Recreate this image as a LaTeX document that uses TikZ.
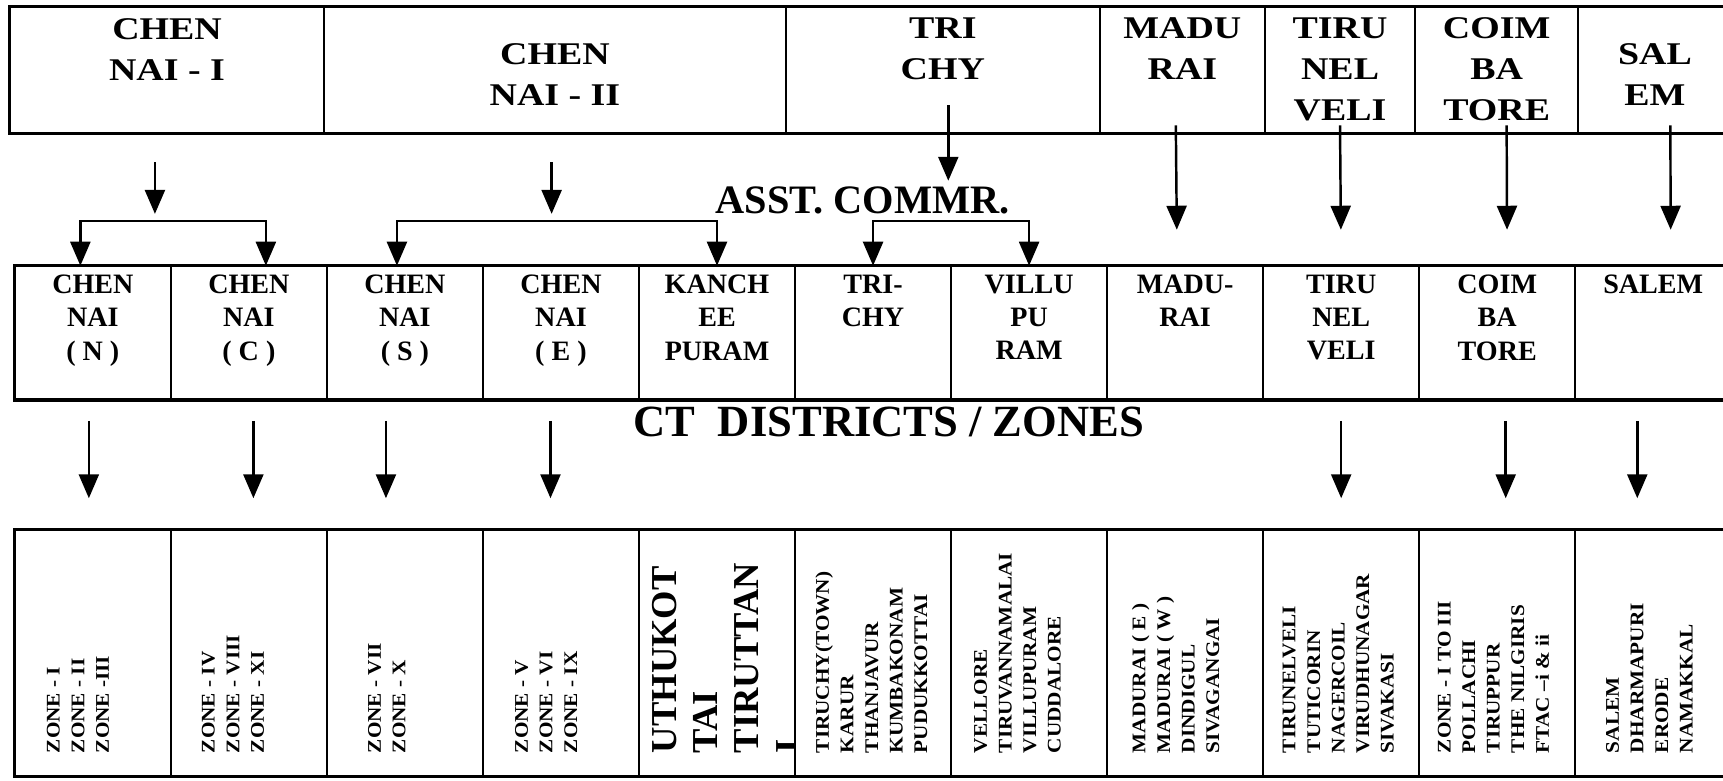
\documentclass[tikz,border=0pt]{standalone}
\usepackage{fontspec}
\setmainfont{Liberation Serif}
\newfontfamily\widefont[FakeStretch=1.2]{Liberation Serif}
\newfontfamily\zonefont[FakeStretch=1.1]{Liberation Serif}
\usetikzlibrary{arrows.meta,positioning}

\begin{document}
\begin{tikzpicture}[x=0.11mm, y=-0.11mm,
    top_cell/.style ={rectangle, draw=black, line width=0.5pt,
      inner sep=0pt, outer sep=0pt, minimum height=12.67mm},
    mid_cell/.style ={rectangle, draw=black, line width=0.5pt,
      inner sep=0pt, outer sep=0pt, minimum width=15.62mm, minimum height=13.44mm},
    zone_cell/.style ={rectangle, draw=black, line width=0.5pt,
      inner sep=0pt, outer sep=0pt, minimum width=15.62mm, minimum height=24.77mm},
    frame/.style ={draw=black, line width=0.9pt},
    top_text/.style ={align=center, inner sep=0pt,
      font=\widefont\bfseries\fontsize{9}{11.7}\selectfont},
    mid_text/.style ={align=center, inner sep=0pt,
      font=\bfseries\fontsize{8}{9.4}\selectfont},
    zone_text/.style ={rotate=90, anchor=west, align=left, inner sep=0pt,
      font=\zonefont\bfseries\fontsize{5.5}{7}\selectfont},
    zone_big/.style ={rotate=90, anchor=west, align=left, inner sep=0pt,
      font=\bfseries\fontsize{10.4}{11.7}\selectfont},
    heading/.style ={anchor=base, inner sep=0pt},
    line/.style ={draw, line width=0.7pt, -{Triangle[length=2.4mm, width=2mm]}}]
    \useasboundingbox (0,0) rectangle (1568,710);
    \clip (0,0) rectangle (1568,710);

    % row 1: divisions
    \node[top_cell, minimum width=31.46mm, anchor=north west] (t_chen1) at (9,6.1) {};
    \node[top_cell, minimum width=46.2mm, right=0pt of t_chen1] (t_chen2) {};
    \node[top_cell, minimum width=31.46mm, right=0pt of t_chen2] (t_trichy) {};
    \node[top_cell, minimum width=16.5mm, right=0pt of t_trichy] (t_madurai) {};
    \node[top_cell, minimum width=15.07mm, right=0pt of t_madurai] (t_tiru) {};
    \node[top_cell, minimum width=16.28mm, right=0pt of t_tiru] (t_coim) {};
    \node[top_cell, minimum width=15.4mm, right=0pt of t_coim] (t_salem) {};
    \draw[frame] (t_chen1.north west) rectangle (t_salem.south east);

    \node[top_text, below=1.1mm of t_chen1.north] (l_chen1) {CHEN\\NAI - I};
    \node[top_text, below=3.6mm of t_chen2.north] (l_chen2) {CHEN\\NAI - II};
    \node[top_text, below=1mm of t_trichy.north] (l_trichy) {TRI\\CHY};
    \node[top_text, below=1mm of t_madurai.north] (l_madurai) {MADU\\RAI};
    \node[top_text, below=1mm of t_tiru.north] (l_tiru) {TIRU\\NEL\\VELI};
    \node[top_text, below=1mm of t_coim.north] (l_coim) {COIM\\BA\\TORE};
    \node[top_text, below=3.6mm of t_salem.north] (l_salem) {SAL\\EM};

    \node[heading, font=\bfseries\fontsize{11.5}{13}\selectfont] (asst) at (785,194) {ASST. COMMR.};

    % row 2: districts
    \node[mid_cell, anchor=north west] (m_cn_n) at (13.5,241.8) {};
    \node[mid_cell, right=0pt of m_cn_n] (m_cn_c) {};
    \node[mid_cell, right=0pt of m_cn_c] (m_cn_s) {};
    \node[mid_cell, right=0pt of m_cn_s] (m_cn_e) {};
    \node[mid_cell, right=0pt of m_cn_e] (m_kanchee) {};
    \node[mid_cell, right=0pt of m_kanchee] (m_trichy) {};
    \node[mid_cell, right=0pt of m_trichy] (m_villu) {};
    \node[mid_cell, right=0pt of m_villu] (m_madurai) {};
    \node[mid_cell, right=0pt of m_madurai] (m_tiru) {};
    \node[mid_cell, right=0pt of m_tiru] (m_coim) {};
    \node[mid_cell, right=0pt of m_coim] (m_salem) {};
    \draw[frame] (m_cn_n.north west) rectangle (m_salem.south east);

    \node[mid_text, below=0.9mm of m_cn_n.north] (l_cn_n) {CHEN\\NAI\\( N )};
    \node[mid_text, below=0.9mm of m_cn_c.north] (l_cn_c) {CHEN\\NAI\\( C )};
    \node[mid_text, below=0.9mm of m_cn_s.north] (l_cn_s) {CHEN\\NAI\\( S )};
    \node[mid_text, below=0.9mm of m_cn_e.north] (l_cn_e) {CHEN\\NAI\\( E )};
    \node[mid_text, below=0.9mm of m_kanchee.north] (l_kanchee) {KANCH\\EE\\PURAM};
    \node[mid_text, below=0.9mm of m_trichy.north] (l_mtrichy) {TRI-\\CHY};
    \node[mid_text, below=0.9mm of m_villu.north] (l_villu) {VILLU\\PU\\RAM};
    \node[mid_text, below=0.9mm of m_madurai.north] (l_mmadurai) {MADU-\\RAI};
    \node[mid_text, below=0.9mm of m_tiru.north] (l_mtiru) {TIRU\\NEL\\VELI};
    \node[mid_text, below=0.9mm of m_coim.north] (l_mcoim) {COIM\\BA\\TORE};
    \node[mid_text, below=0.9mm of m_salem.north] (l_msalem) {SALEM};

    \node[heading, font=\bfseries\fontsize{12.7}{14}\selectfont] (ctdist) at (809,397.5) {CT~~DISTRICTS / ZONES};

    % row 3: zones
    \node[zone_cell, anchor=north west] (b_cn_n) at (13.5,481.6) {};
    \node[zone_cell, right=0pt of b_cn_n] (b_cn_c) {};
    \node[zone_cell, right=0pt of b_cn_c] (b_cn_s) {};
    \node[zone_cell, right=0pt of b_cn_s] (b_cn_e) {};
    \node[zone_cell, right=0pt of b_cn_e] (b_kanchee) {};
    \node[zone_cell, right=0pt of b_kanchee] (b_trichy) {};
    \node[zone_cell, right=0pt of b_trichy] (b_villu) {};
    \node[zone_cell, right=0pt of b_villu] (b_madurai) {};
    \node[zone_cell, right=0pt of b_madurai] (b_tiru) {};
    \node[zone_cell, right=0pt of b_tiru] (b_coim) {};
    \node[zone_cell, right=0pt of b_coim] (b_salem) {};
    \draw[frame] (b_cn_n.north west) rectangle (b_salem.south east);

    \node[zone_text] (z_cn_n) at (71,686) {ZONE - I\\ZONE - II\\ZONE -III};
    \node[zone_text] (z_cn_c) at (212,686) {ZONE - IV\\ZONE - VIII\\ZONE - XI};
    \node[zone_text] (z_cn_s) at (352,686) {ZONE - VII\\ZONE - X};
    \node[zone_text] (z_cn_e) at (497,686) {ZONE - V\\ZONE - VI\\ZONE - IX};
    \begin{scope}
      \clip (b_kanchee.north west) rectangle (b_kanchee.south east);
      \node[zone_big] (z_kanchee) at (661,686) {UTHUKOT\\TAI\\TIRUTTAN\\I};
    \end{scope}
    \node[zone_text] (z_trichy) at (793,686) {TIRUCHY(TOWN)\\KARUR\\THANJAVUR\\KUMBAKONAM\\PUDUKKOTTAI};
    \node[zone_text] (z_villu) at (926,686) {VELLORE\\TIRUVANNAMALAI\\VILLUPURAM\\CUDDALORE};
    \node[zone_text] (z_madurai) at (1070,686) {MADURAI ( E )\\MADURAI ( W )\\DINDIGUL\\SIVAGANGAI};
    \node[zone_text] (z_tiru) at (1218,686) {TIRUNELVELI\\TUTICORIN\\NAGERCOIL\\VIRUDHUNAGAR\\SIVAKASI};
    \node[zone_text] (z_coim) at (1359,686) {ZONE - I TO III\\POLLACHI\\TIRUPPUR\\THE NILGIRIS\\FTAC –i \& ii};
    \node[zone_text] (z_salem) at (1501,686) {SALEM\\DHARMAPURI\\ERODE\\NAMAKKAL};

    % connecting nodes with paths
    \coordinate (j_chen1) at (141,201);
    \coordinate (j_chen2) at (502,201);
    \coordinate (j_trichy) at (863,201);
    \begin{scope}[every path/.style=line]
      \path[shorten <=2.9mm, shorten >=0.7mm] (t_chen1.south -| j_chen1) -- (j_chen1);
      \path (j_chen1) -| ([xshift=-1.25mm]m_cn_n.north);
      \path (j_chen1) -| ([xshift=1.7mm]m_cn_c.north);
      \path[shorten <=2.9mm, shorten >=0.7mm] (t_chen2.south -| j_chen2) -- (j_chen2);
      \path (j_chen2) -| ([xshift=-0.8mm]m_cn_s.north);
      \path (j_chen2) -| (m_kanchee.north);
      \path[shorten <=2.5mm, shorten >=0.5mm] (l_trichy.south -| j_trichy) -- (asst.north -| j_trichy);
      \path (j_trichy) -| (m_trichy.north);
      \path (j_trichy) -| (m_villu.north);
      % divisions straight down
      \path[shorten <=-0.8mm, shorten >=3.6mm] ([xshift=-0.65mm]t_madurai.south) -- ([xshift=-0.8mm]m_madurai.north);
      \path[shorten <=-0.8mm, shorten >=3.6mm] (t_tiru.south) -- (m_tiru.north);
      \path[shorten <=-0.8mm, shorten >=3.6mm] ([xshift=1mm]t_coim.south) -- ([xshift=1mm]m_coim.north);
      \path[shorten <=-0.8mm, shorten >=3.6mm] ([xshift=1.55mm]t_salem.south) -- ([xshift=1.75mm]m_salem.north);
      % districts to zones
      \path[shorten <=2.1mm, shorten >=3.1mm] ([xshift=-0.4mm]m_cn_n.south) -- ([xshift=-0.4mm]b_cn_n.north);
      \path[shorten <=2.1mm, shorten >=3.1mm] ([xshift=0.45mm]m_cn_c.south) -- ([xshift=0.45mm]b_cn_c.north);
      \path[shorten <=2.1mm, shorten >=3.1mm] ([xshift=-1.9mm]m_cn_s.south) -- ([xshift=-1.9mm]b_cn_s.north);
      \path[shorten <=2.1mm, shorten >=3.1mm] ([xshift=-1.05mm]m_cn_e.south) -- ([xshift=-1.05mm]b_cn_e.north);
      \path[shorten <=2.1mm, shorten >=3.1mm] (m_tiru.south) -- (b_tiru.north);
      \path[shorten <=2.1mm, shorten >=3.1mm] ([xshift=0.85mm]m_coim.south) -- ([xshift=0.85mm]b_coim.north);
      \path[shorten <=2.1mm, shorten >=3.1mm] ([xshift=-1.6mm]m_salem.south) -- ([xshift=-1.6mm]b_salem.north);
    \end{scope}
\end{tikzpicture}
\end{document}
